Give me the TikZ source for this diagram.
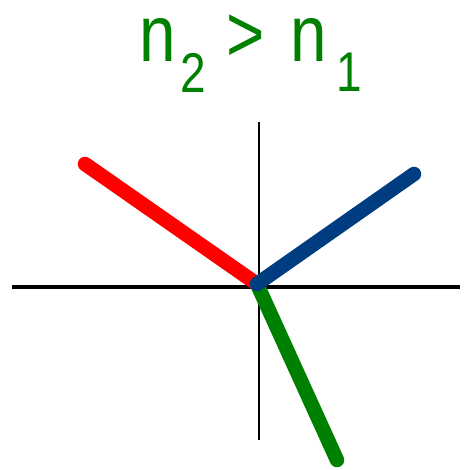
\documentclass[tikz,border=0pt]{standalone}
\usepackage{fontspec}
\setmainfont{Liberation Sans}
\definecolor{rayred}{RGB}{255,0,0}
\definecolor{rayblue}{RGB}{0,61,128}
\definecolor{raygreen}{RGB}{0,128,0}
\begin{document}
\begin{tikzpicture}[x=1pt,y=-1pt,
  axis/.style={black,line width=#1},
  ray/.style={line width=14.5pt,line cap=round,draw=#1},
  title/.style={text=raygreen,font=\fontsize{80}{90}\selectfont,inner sep=0pt}]
\useasboundingbox (0,0) rectangle (470,470);
\coordinate (O) at (257,284);
\coordinate (xl) at (12,287);
\coordinate (xr) at (460,287);
\coordinate (yt) at (259,122);
\coordinate (yb) at (259,440);
\coordinate (R) at (85,164);
\coordinate (B) at (414,174);
\coordinate (G) at (337,460);
\draw[axis=4pt] (xl) -- (xr);
\draw[axis=2.5pt] (yt) -- (yb);
\draw[ray=rayred] (R) -- (O);
\draw[ray=raygreen] (O) -- (G);
\draw[ray=rayblue] (O) -- (B);
\node[title,xscale=0.82,anchor=base] (t) at (251,62) {n\hspace{6pt}\textsubscript{2}\hspace{24pt}>\hspace{32pt}n\hspace{12pt}\textsubscript{1}};
\end{tikzpicture}
\end{document}
